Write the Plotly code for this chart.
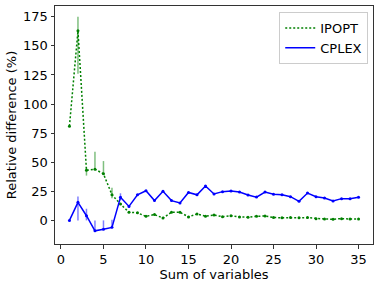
import plotly.graph_objects as go

x_vals = list(range(1, 36))

ipopt = [81, 163, 43, 44, 40, 22, 14, 7, 6.5, 3.5, 5, 2, 7, 7, 3, 5.5, 3.6,
         4.6, 3.2, 4, 3, 2.7, 3.5, 3.8, 2.4, 2.2, 2.4, 2.2, 2.4, 1.5, 1.2, 1, 1.5, 1.2, 1.2]
ipopt_err_plus = [0, 12, 2.5, 15, 11, 6, 0, 0, 0, 0, 0, 0, 0, 0, 0, 0, 0,
                  0, 0, 0, 0, 0, 0, 0, 0, 0, 0, 0, 0, 0, 0, 0, 0, 0, 0]
ipopt_err_minus = [0, 37, 4.5, 0, 0, 3, 0, 0, 0, 0, 0, 0, 0, 0, 0, 0, 0,
                   0, 0, 0, 0, 0, 0, 0, 0, 0, 0, 0, 0, 0, 0, 0, 0, 0, 0]

cplex = [0, 15.5, 4, -9, -7.7, -6, 19.8, 12, 22, 25.5, 17, 25, 17, 15, 24, 22, 29.6,
         22.7, 24.7, 25.3, 24.4, 21.8, 20, 24.4, 22.4, 22, 20.4, 16.4, 23.5, 20.4, 19.3, 16.7, 18.7, 18.7, 19.8]
cplex_err_plus = [0, 5, 6, 9, 7.7, 6.5, 3.5, 0, 0, 0, 0, 0, 0, 0, 0, 0, 0,
                  0, 0, 0, 0, 0, 0, 0, 0, 0, 0, 0, 0, 0, 0, 0, 0, 0, 0]
cplex_err_minus = [0, 15.5, 4, 0, 0, 0, 2.5, 0, 0, 0, 0, 0, 0, 0, 0, 0, 0,
                   0, 0, 0, 0, 0, 0, 0, 0, 0, 0, 0, 0, 0, 0, 0, 0, 0, 0]

x_ticks = [0, 5, 10, 15, 20, 25, 30, 35]
y_ticks = [0, 25, 50, 75, 100, 125, 150, 175]

GREEN = "#008000"
fig = go.Figure()
fig.add_trace(go.Scatter(
    x=x_vals, y=ipopt, name="IPOPT", mode="lines+markers", showlegend=False,
    line=dict(color=GREEN, width=1.5, dash="2px,2px"),
    marker=dict(color=GREEN, size=3),
    error_y=dict(type="data", symmetric=False, array=ipopt_err_plus,
                 arrayminus=ipopt_err_minus, color="rgba(0,128,0,0.5)",
                 thickness=1.5, width=0),
))
fig.add_trace(go.Scatter(
    x=x_vals, y=cplex, name="CPLEX", mode="lines+markers", showlegend=False,
    line=dict(color="blue", width=1.5),
    marker=dict(color="blue", size=3),
    error_y=dict(type="data", symmetric=False, array=cplex_err_plus,
                 arrayminus=cplex_err_minus, color="rgba(0,0,255,0.5)",
                 thickness=1.5, width=0),
))
# legend entries (line only)
fig.add_trace(go.Scatter(x=[None], y=[None], name="IPOPT", mode="lines",
                         line=dict(color=GREEN, width=1.5, dash="2px,2px")))
fig.add_trace(go.Scatter(x=[None], y=[None], name="CPLEX", mode="lines",
                         line=dict(color="blue", width=1.5)))

axis_common = dict(showline=True, linecolor="#333333", linewidth=1, mirror=True,
                   ticks="outside", ticklen=3.5, tickwidth=1, tickcolor="#333333",
                   showgrid=False, zeroline=False, automargin=False,
                   tickfont=dict(family="DejaVu Sans", size=13, color="black"))

fig.update_layout(
    width=380, height=287,
    margin=dict(l=55, r=7, t=6, b=43),
    paper_bgcolor="white", plot_bgcolor="white",
    font=dict(family="DejaVu Sans", size=13, color="black"),
    xaxis=dict(range=[-0.7, 36.7], tickvals=x_ticks, ticklabelstandoff=0,
               title=dict(text="Sum of variables", font=dict(size=13), standoff=0),
               **axis_common),
    yaxis=dict(range=[-20.3, 184.3], tickvals=y_ticks, ticklabelstandoff=0,
               title=dict(text="Relative difference (%)", font=dict(size=13), standoff=3),
               **axis_common),
    legend=dict(x=0.985, y=0.975, xanchor="right", yanchor="top",
                bgcolor="rgba(255,255,255,0.8)", bordercolor="#cccccc", borderwidth=1,
                font=dict(size=13), tracegroupgap=0, itemwidth=30),
    showlegend=True,
)

fig.write_html("out.html", config={"displayModeBar": False},
               post_script="document.body.style.margin='0';document.body.style.overflow='hidden';")
